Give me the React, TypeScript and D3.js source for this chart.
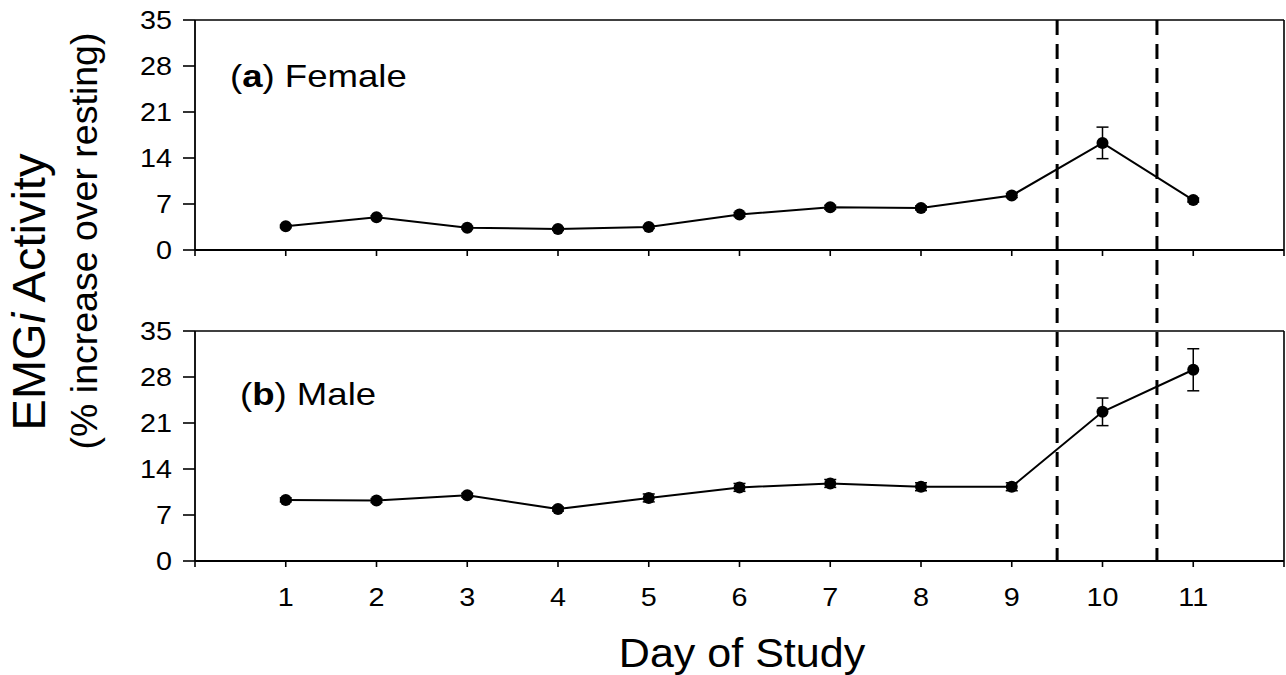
import React from 'react'
import * as d3 from 'd3'

// EMGi activity by day, female (a) and male (b) panels

const days = [1, 2, 3, 4, 5, 6, 7, 8, 9, 10, 11]
const femaleMean = [3.6, 5.0, 3.4, 3.2, 3.5, 5.4, 6.5, 6.4, 8.3, 16.3, 7.6]
const femaleErr = [0.2, 0.2, 0.2, 0.2, 0.2, 0.3, 0.3, 0.3, 0.3, 2.4, 0.3]
const maleMean = [9.3, 9.2, 10.0, 7.9, 9.6, 11.2, 11.8, 11.3, 11.3, 22.7, 29.1]
const maleErr = [0.3, 0.3, 0.3, 0.3, 0.6, 0.6, 0.6, 0.6, 0.6, 2.1, 3.2]
const yTicks = [0, 7, 14, 21, 28, 35]
const xTicks = [0, 1, 2, 3, 4, 5, 6, 7, 8, 9, 10, 11, 12]
const xLabels = ['1', '2', '3', '4', '5', '6', '7', '8', '9', '10', '11']
const markerDays = [9.5, 10.6]

const font = '"Liberation Sans", Arial, Helvetica, sans-serif'

const x = d3.scaleLinear().domain([0, 12]).range([195, 1284])

function Stretch({x: tx, y: ty, sx, children, ...rest}: any) {
  return (
    <g transform={`translate(${tx},${ty}) scale(${sx},1)`}>
      <text x={0} y={0} fontFamily={font} fill="#000" {...rest}>{children}</text>
    </g>
  )
}

function Panel({top, bottom, mean, err, label, labelX, labelY}: any) {
  const y = d3.scaleLinear().domain([0, 35]).range([bottom, top])
  const line = d3.line<number>()
    .x((d, i) => x(days[i]))
    .y(d => y(d))
  return (
    <g>
      {/* frame */}
      <line x1={x(0)} x2={x(12)} y1={y(35)} y2={y(35)} stroke="#000" strokeWidth={1.6} />
      <line x1={x(12)} x2={x(12)} y1={y(35)} y2={y(0)} stroke="#000" strokeWidth={1.6} />
      <line x1={x(0)} x2={x(0)} y1={y(35)} y2={y(0)} stroke="#000" strokeWidth={1.8} />
      <line x1={x(0)} x2={x(12)} y1={y(0)} y2={y(0)} stroke="#000" strokeWidth={1.8} />
      {yTicks.map(t => (
        <g key={'y' + t}>
          <line x1={x(0) - 12} x2={x(0)} y1={y(t)} y2={y(t)} stroke="#000" strokeWidth={1.6} />
          <Stretch x={172} y={y(t) + 9} sx={1.15} fontSize={25} textAnchor="end">{t}</Stretch>
        </g>
      ))}
      {xTicks.map(t => (
        <line key={'x' + t} x1={x(t)} x2={x(t)} y1={y(0)} y2={y(0) + 6} stroke="#000" strokeWidth={1.6} />
      ))}
      <path d={line(mean) || ''} fill="none" stroke="#000" strokeWidth={2} />
      {mean.map((m: number, i: number) => (
        <g key={i}>
          <line x1={x(days[i])} x2={x(days[i])} y1={y(m - err[i])} y2={y(m + err[i])} stroke="#000" strokeWidth={1.5} />
          <line x1={x(days[i]) - 6} x2={x(days[i]) + 6} y1={y(m + err[i])} y2={y(m + err[i])} stroke="#000" strokeWidth={1.5} />
          <line x1={x(days[i]) - 6} x2={x(days[i]) + 6} y1={y(m - err[i])} y2={y(m - err[i])} stroke="#000" strokeWidth={1.5} />
          <circle cx={x(days[i])} cy={y(m)} r={6} fill="#000" />
        </g>
      ))}
      <Stretch x={labelX} y={labelY} sx={1.18} fontSize={31}>
        (<tspan fontWeight="bold">{label[0]}</tspan>) {label[1]}
      </Stretch>
    </g>
  )
}

export default function App() {
  return (
    <svg width={1286} height={675} style={{position: 'absolute', left: 0, top: 0, background: '#fff'}}>
      <rect width={1286} height={675} fill="#fff" />
      <Panel top={20} bottom={250} mean={femaleMean} err={femaleErr} label={['a', 'Female']} labelX={230} labelY={87} />
      <Panel top={331} bottom={561} mean={maleMean} err={maleErr} label={['b', 'Male']} labelX={240} labelY={405} />
      {markerDays.map(d => (
        <line key={d} x1={x(d)} x2={x(d)} y1={20} y2={561} stroke="#000" strokeWidth={3} strokeDasharray="15,9" />
      ))}
      {xLabels.map((l, i) => (
        <Stretch key={l} x={x(days[i])} y={606} sx={1.15} fontSize={25} textAnchor="middle">{l}</Stretch>
      ))}
      <Stretch x={742} y={667} sx={1.05} fontSize={41} textAnchor="middle">Day of Study</Stretch>
      <g transform="translate(45,292) rotate(-90)">
        <text x={0} y={0} fontFamily={font} fontSize={47} textAnchor="middle" fill="#000">
          EMG<tspan fontStyle="italic">i</tspan> Activity
        </text>
      </g>
      <g transform="translate(97,241) rotate(-90)">
        <text x={0} y={0} fontFamily={font} fontSize={37.5} textAnchor="middle" fill="#000">
          (% increase over resting)
        </text>
      </g>
    </svg>
  )
}
